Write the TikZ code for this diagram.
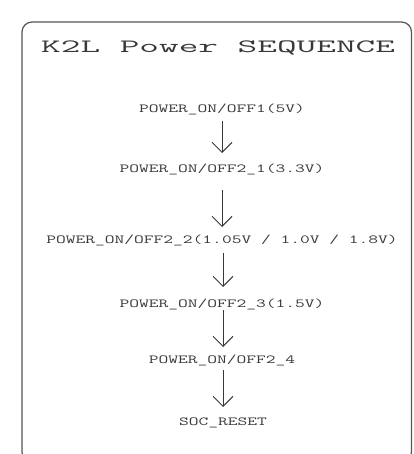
\documentclass[tikz,border=0pt]{standalone}
\usepackage{fontspec}
\usetikzlibrary{arrows.meta,calc}
\newcommand{\ttlx}[1]{\scalebox{2.03}[1]{\ttfamily\fontsize{18.8}{19}\selectfont #1}}
\newcommand{\lblx}[1]{\scalebox{1.54}[1]{\ttfamily\fontsize{12.3}{13}\selectfont #1}}
\definecolor{ink}{HTML}{383838}
\definecolor{frame}{HTML}{555555}
\tikzset{
  lbl/.style={anchor=base,inner sep=0pt,text=ink},
  ttl/.style={anchor=base west,inner sep=0pt,text=ink},
  arr/.style={draw=ink,line width=0.9pt,-{Straight Barb[length=10pt,width=20pt,line width=0.9pt]}},
  box/.style={draw=frame,line width=1.2pt,rounded corners=10pt}
}
\begin{document}
\begin{tikzpicture}[x=1pt,y=-1pt]
\useasboundingbox (0,0) rectangle (413,454);
\clip (0,0) rectangle (413,454);
\draw[box] (22,22) rectangle (411.5,462);
\node[ttl] (title) at (41,53) {\ttlx{K2L Power SEQUENCE}};
\node[lbl] (p1) at (222,113) {\lblx{POWER\_ON/OFF1(5V)}};
\node[lbl] (p21) at (222,173) {\lblx{POWER\_ON/OFF2\_1(3.3V)}};
\node[lbl] (p22) at (222,243) {\lblx{POWER\_ON/OFF2\_2(1.05V / 1.0V / 1.8V)}};
\node[lbl] (p23) at (222,307) {\lblx{POWER\_ON/OFF2\_3(1.5V)}};
\node[lbl] (p24) at (222,363) {\lblx{POWER\_ON/OFF2\_4}};
\node[lbl] (soc) at (223,425) {\lblx{SOC\_RESET}};
\draw[arr] ($(p1.base)+(0,8)$) -- ($(p21.base)+(0,-20)$);
\draw[arr] ($(p21.base)+(0,17)$) -- ($(p22.base)+(0,-16)$);
\draw[arr] ($(p22.base)+(1,10)$) -- ($(p23.base)+(1,-20)$);
\draw[arr] ($(p23.base)+(1,3)$) -- ($(p24.base)+(1,-16)$);
\draw[arr] ($(p24.base)+(1,7)$) -- ($(soc.base)+(0,-18)$);
\end{tikzpicture}
\end{document}
